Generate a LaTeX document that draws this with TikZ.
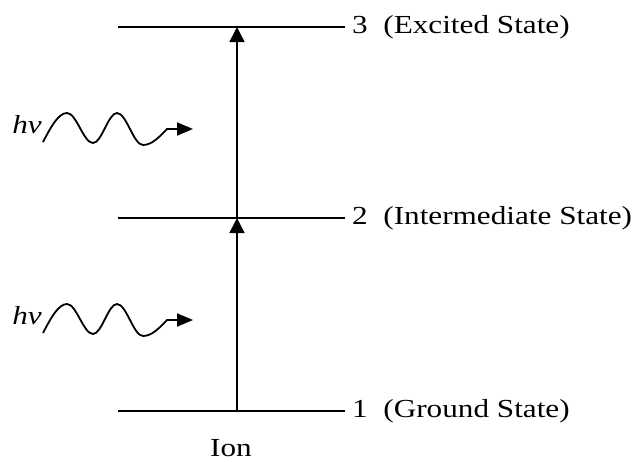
\documentclass[tikz,border=0pt]{standalone}
\usepackage{fontspec}
\setmainfont{Liberation Serif}[FakeStretch=1.2]
\usetikzlibrary{arrows.meta,positioning,calc}

\begin{document}
\begin{tikzpicture}[x=1pt,y=-1pt,
  level/.style={line width=1.8pt},
  excite/.style={line width=1.5pt,-{Triangle[length=15pt,width=15pt]}},
  photon/.style={line width=1.8pt,-{Triangle[length=16pt,width=13pt]}},
  statelab/.style={anchor=west,inner sep=0pt,font=\fontsize{26}{30}\selectfont}]
\useasboundingbox (0,0) rectangle (637,461);
% energy levels
\coordinate (l3a) at (118,27);  \coordinate (l3b) at (345,27);
\coordinate (l2a) at (118,218); \coordinate (l2b) at (345,218);
\coordinate (l1a) at (118,411); \coordinate (l1b) at (345,411);
\draw[level] (l3a)--(l3b);
\draw[level] (l2a)--(l2b);
\draw[level] (l1a)--(l1b);
\node[statelab,xshift=7pt] (s3) at (l3b) {3\ \ (Excited State)};
\node[statelab,xshift=7pt] (s2) at (l2b) {2\ \ (Intermediate State)};
\node[statelab,xshift=7pt] (s1) at (l1b) {1\ \ (Ground State)};
\node[statelab,anchor=base] (ion) at (231,456) {Ion};
% transitions
\coordinate (e1) at (237,411);
\coordinate (e2) at (237,218);
\coordinate (e3) at (237,27);
\draw[excite] (e1)--(e2);
\draw[excite] (e2)--(e3);
% photons
\foreach \i/\y in {1/0,2/191}{
  \node[statelab,anchor=base east] (hv\i) at (42,133+\y) {\textit{hv}};
  \coordinate (w\i) at (43,142+\y);
  \coordinate (t\i) at (193,129+\y);
  \draw[photon] (w\i) sin ++(24,-29) cos ++(13,15) sin ++(13,15) cos ++(12,-15) sin ++(12,-15)
    cos ++(13,16) sin ++(13,16) cos ++(24,-16) -- (t\i);
}
\end{tikzpicture}
\end{document}
